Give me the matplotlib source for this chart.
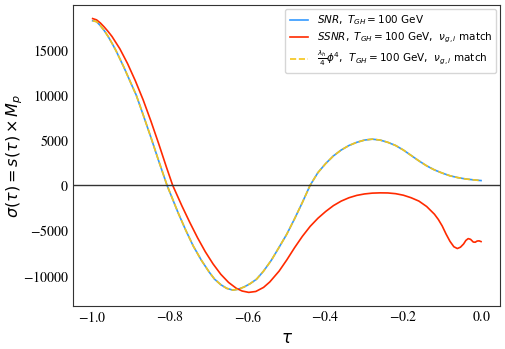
import matplotlib.pyplot as plt

# SNR curve (blue) and lambda phi^4 curve (yellow, same values)
tau_snr = [-1.0, -0.99, -0.98, -0.97, -0.96, -0.95, -0.94, -0.92, -0.90, -0.888,
           -0.87, -0.85, -0.83, -0.8085, -0.78, -0.76, -0.741, -0.72, -0.70, -0.686,
           -0.67, -0.655, -0.639, -0.625, -0.61, -0.595, -0.578, -0.56, -0.54, -0.518,
           -0.50, -0.48, -0.46, -0.44, -0.42, -0.40, -0.38, -0.36, -0.34, -0.32,
           -0.30, -0.28, -0.26, -0.24, -0.22, -0.20, -0.18, -0.16, -0.14, -0.12,
           -0.10, -0.08, -0.06, -0.04, -0.02, 0.0]
sigma_snr = [18200, 18100, 17650, 17100, 16450, 15700, 14900, 13100, 11150, 10000,
             7800, 5300, 2700, 0, -3040, -5000, -6720, -8300, -9600, -10390,
             -11000, -11400, -11600, -11500, -11250, -10900, -10390, -9500, -8300, -6720,
             -5400, -3700, -1900, 0, 1400, 2400, 3250, 3900, 4400, 4750,
             5000, 5100, 5000, 4750, 4400, 3900, 3300, 2700, 2150, 1700,
             1350, 1050, 850, 700, 600, 520]

# SSNR curve (red)
tau_ssnr = [-1.0, -0.99, -0.98, -0.97, -0.96, -0.95, -0.93, -0.91, -0.89, -0.87,
            -0.85, -0.83, -0.81, -0.794, -0.77, -0.75, -0.73, -0.71, -0.69, -0.67,
            -0.65, -0.63, -0.615, -0.598, -0.58, -0.56, -0.544, -0.52, -0.50, -0.48,
            -0.46, -0.44, -0.42, -0.40, -0.38, -0.36, -0.34, -0.32, -0.30, -0.28,
            -0.26, -0.24, -0.22, -0.20, -0.18, -0.16, -0.14, -0.12, -0.11, -0.10,
            -0.09, -0.08, -0.07, -0.061, -0.053, -0.045, -0.039, -0.033, -0.027, -0.02,
            -0.015, -0.01, -0.005, 0.0]
sigma_ssnr = [18440, 18300, 17950, 17500, 17000, 16450, 15100, 13450, 11550, 9450,
              7100, 4600, 2000, 0, -2300, -4100, -5800, -7350, -8700, -9850,
              -10750, -11400, -11700, -11850, -11750, -11300, -10700, -9500, -8250, -6900,
              -5650, -4550, -3650, -2900, -2250, -1750, -1380, -1120, -960, -870,
              -840, -850, -930, -1100, -1380, -1750, -2350, -3200, -3780, -4500,
              -5400, -6200, -6800, -7000, -6850, -6500, -6100, -5900, -5980, -6280,
              -6300, -6170, -6150, -6230]

xticks = [-1.0, -0.8, -0.6, -0.4, -0.2, 0.0]
xtick_labels = ['$-1.0$', '$-0.8$', '$-0.6$', '$-0.4$', '$-0.2$', '$0.0$']
yticks = [-10000, -5000, 0, 5000, 10000, 15000]
ytick_labels = ['$-10000$', '$-5000$', '$0$', '$5000$', '$10000$', '$15000$']

fig = plt.figure(figsize=(5.05, 3.49), dpi=100)
ax = fig.add_axes([0.145, 0.123, 0.846, 0.863])

ax.plot(tau_snr, sigma_snr, color='#3399ff', lw=1.2,
        label=r'$SNR,\ T_{GH} = 100$ GeV')
ax.plot(tau_ssnr, sigma_ssnr, color='#ff2a00', lw=1.2,
        label=r'$SSNR,\ T_{GH} = 100$ GeV,  $\nu_{g,i}$ match')
ax.plot(tau_snr, sigma_snr, color='#f5c518', lw=1.2, ls='--',
        label=r'$\frac{\lambda_h}{4}\phi^4$,  $T_{GH} = 100$ GeV,  $\nu_{g,i}$ match')
ax.axhline(0, color='#333333', lw=1.0)

ax.set_xlabel(r'$\tau$', fontsize=12, labelpad=3)
ax.set_ylabel(r'$\sigma(\tau) = s(\tau) \times M_p$', fontsize=11.5)
ax.yaxis.set_label_coords(-0.113, 0.5)
ax.tick_params(length=0, labelsize=10, pad=3)
ax.set_xticks(xticks)
ax.set_yticks(yticks)
ax.set_xticklabels(xtick_labels, math_fontfamily='stix')
ax.set_yticklabels(ytick_labels, math_fontfamily='stix')
for s in ax.spines.values():
    s.set_color('#333333')

ax.legend(loc='upper right', fontsize=7.5, labelspacing=0.35,
          handlelength=1.8, borderaxespad=0.4)

fig.savefig('out.png', dpi=100)
